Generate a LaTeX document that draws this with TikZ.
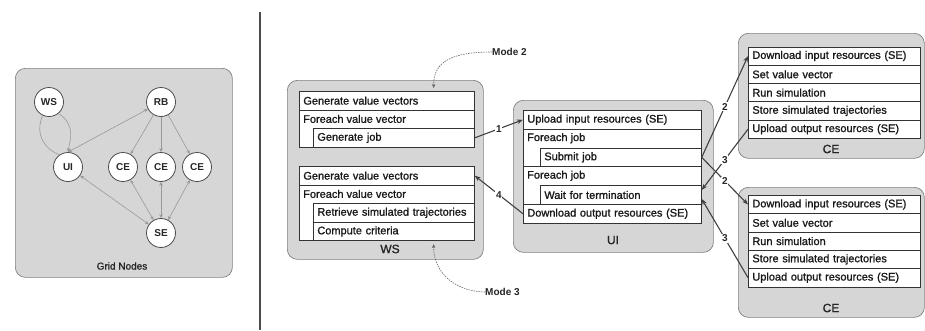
\documentclass[tikz,border=0pt]{standalone}
\usepackage{fontspec}
\setmainfont{Liberation Sans}
\newfontfamily\medfont[FakeBold=1.2]{Liberation Sans}
\usetikzlibrary{arrows.meta,calc}

\newcommand{\rowsize}{\medfont\fontsize{11}{13}\selectfont}

\begin{document}
\begin{tikzpicture}[x=1pt,y=-1pt,
  panel/.style={draw=black!50, fill=black!16, rounded corners=10pt, line width=0.7pt,
                anchor=north west, inner sep=0pt},
  rowbox/.style={draw=black!80, fill=white, line width=0.7pt, anchor=north west,
                 inner xsep=4pt, inner ysep=0pt, align=left, font=\rowsize, text=black!90},
  headtext/.style={anchor=west, inner sep=0pt, font=\rowsize, text=black!90},
  paneltitle/.style={font=\medfont\fontsize{12}{14}\selectfont, text=black!85},
  gnode/.style={circle, draw=black!70, fill=white, line width=0.8pt, minimum size=29pt,
                inner sep=0pt, font=\fontsize{10}{12}\selectfont\bfseries, text=black!85},
  gedge/.style={draw=black!40, line width=0.6pt},
  gtip/.style={-{Stealth[length=4pt,width=3.5pt]}},
  gtips/.style={{Stealth[length=4pt,width=3.5pt]}-{Stealth[length=4pt,width=3.5pt]}},
  flow/.style={draw=black!75, line width=1.1pt, -{Stealth[length=6pt,width=4.5pt]}},
  numlab/.style={fill=white, inner sep=0.8pt, font=\fontsize{10}{12}\selectfont\bfseries, text=black!85},
  modeline/.style={draw=black!60, line width=0.6pt, dashed, dash pattern=on 1.5pt off 1pt,
                   -{Stealth[length=4pt,width=3.5pt]}},
  modetext/.style={anchor=west, inner sep=0pt, font=\fontsize{10}{12}\selectfont\bfseries, text=black!85}
]
\useasboundingbox (0,0) rectangle (925,330);

% ---------------- Grid nodes overview ----------------
\node[panel, minimum width=217pt, minimum height=209pt] (gridpanel) at (15,68) {};
\node[paneltitle, font=\medfont\fontsize{10}{12}\selectfont] (gridtitle) at (122,266) {Grid Nodes};

\node[gnode] (g-ws)  at (49,102)  {WS};
\node[gnode] (g-rb)  at (161,102) {RB};
\node[gnode] (g-ui)  at (68,167)  {UI};
\node[gnode] (g-ce1) at (123,167) {CE};
\node[gnode] (g-ce2) at (161,167) {CE};
\node[gnode] (g-ce3) at (197,167) {CE};
\node[gnode] (g-se)  at (161,233) {SE};

\draw[gedge,gtip] (g-ws.-50) .. controls (76,125) and (70,140) .. (g-ui.north);
\draw[gedge] (g-ws.-115) .. controls (34,135) and (46,150) .. (g-ui.125);
\draw[gedge,gtips] (g-rb) -- (g-ui.north);
\draw[gedge,gtip] (g-rb) -- (g-ce1);
\draw[gedge,gtip] (g-rb) -- (g-ce2);
\draw[gedge,gtip] (g-rb) -- (g-ce3);
\draw[gedge,gtips] (g-se) -- (g-ui);
\draw[gedge,gtips] (g-se) -- (g-ce1);
\draw[gedge,gtips] (g-se) -- (g-ce2);
\draw[gedge,gtips] (g-se) -- (g-ce3);

% ---------------- separator ----------------
\draw[draw=black!70, line width=1.8pt] (260,12) -- (260,330);

% ---------------- WS ----------------
\node[panel, minimum width=196pt, minimum height=179pt] (ws) at (287,80) {};
\node[paneltitle] (ws-title) at (390,249) {WS};

\node[rowbox, text width=167pt, minimum height=18.6pt] (ws-gvv1) at (299,91) {Generate value vectors};
\node[rowbox, text width=167pt, minimum height=37.2pt] (ws-fe1) at (299,109.6) {};
\node[headtext] (ws-fe1-t) at ($(ws-fe1.north west)+(4,9.3)$) {Foreach value vector};
\node[rowbox, text width=153pt, minimum height=18.6pt] (ws-gj) at (313,128.2) {Generate job};

\node[rowbox, text width=167pt, minimum height=18.6pt] (ws-gvv2) at (299,166) {Generate value vectors};
\node[rowbox, text width=167pt, minimum height=55.8pt] (ws-fe2) at (299,184.6) {};
\node[headtext] (ws-fe2-t) at ($(ws-fe2.north west)+(4,9.3)$) {Foreach value vector};
\node[rowbox, text width=153pt, minimum height=18.6pt] (ws-rst) at (313,203.2) {Retrieve simulated trajectories};
\node[rowbox, text width=153pt, minimum height=18.6pt] (ws-cc) at (313,221.8) {Compute criteria};

% ---------------- UI ----------------
\node[panel, minimum width=200pt, minimum height=152pt] (ui) at (513,100) {};
\node[paneltitle] (ui-title) at (613,240) {UI};

\node[rowbox, text width=170pt, minimum height=18.8pt] (ui-up) at (523,110) {Upload input resources (SE)};
\node[rowbox, text width=170pt, minimum height=37.6pt] (ui-fe1) at (523,128.8) {};
\node[headtext] (ui-fe1-t) at ($(ui-fe1.north west)+(4,9.4)$) {Foreach job};
\node[rowbox, text width=153pt, minimum height=18.8pt] (ui-sj) at (540,147.6) {Submit job};
\node[rowbox, text width=170pt, minimum height=37.6pt] (ui-fe2) at (523,166.4) {};
\node[headtext] (ui-fe2-t) at ($(ui-fe2.north west)+(4,9.4)$) {Foreach job};
\node[rowbox, text width=153pt, minimum height=18.8pt] (ui-wt) at (540,185.2) {Wait for termination};
\node[rowbox, text width=170pt, minimum height=18.8pt] (ui-dl) at (523,204) {Download output resources (SE)};

% ---------------- CE (upper) ----------------
\node[panel, minimum width=186pt, minimum height=125pt] (ce1) at (738,33) {};
\node[paneltitle] (ce1-title) at (831,149) {CE};
\node[rowbox, text width=164pt, minimum height=18.3pt] (ce1-dl) at (748,46.5)  {Download input resources (SE)};
\node[rowbox, text width=164pt, minimum height=18.3pt] (ce1-vv) at (748,64.8)  {Set value vector};
\node[rowbox, text width=164pt, minimum height=18.3pt] (ce1-rs) at (748,83.1)  {Run simulation};
\node[rowbox, text width=164pt, minimum height=18.3pt] (ce1-st) at (748,101.4) {Store simulated trajectories};
\node[rowbox, text width=164pt, minimum height=18.3pt] (ce1-up) at (748,119.7) {Upload output resources (SE)};

% ---------------- CE (lower) ----------------
\node[panel, minimum width=186pt, minimum height=130pt] (ce2) at (738,187) {};
\node[paneltitle] (ce2-title) at (831,308) {CE};
\node[rowbox, text width=164pt, minimum height=18.3pt] (ce2-dl) at (748,195)   {Download input resources (SE)};
\node[rowbox, text width=164pt, minimum height=18.3pt] (ce2-vv) at (748,213.3) {Set value vector};
\node[rowbox, text width=164pt, minimum height=18.3pt] (ce2-rs) at (748,231.6) {Run simulation};
\node[rowbox, text width=164pt, minimum height=18.3pt] (ce2-st) at (748,249.9) {Store simulated trajectories};
\node[rowbox, text width=164pt, minimum height=18.3pt] (ce2-up) at (748,268.2) {Upload output resources (SE)};

% ---------------- message flows ----------------
\draw[flow] (ws-gj.east) -- node[numlab] (n1) {1} (ui-up.west);
\draw[flow] (ui-dl.west) -- node[numlab] (n4) {4} (ws-gvv2.east);
\draw[flow] (ui-sj.east) -- node[numlab] (n2a) {2} (ce1-dl.west);
\draw[flow] (ui-sj.east) -- node[numlab] (n2b) {2} (ce2-dl.west);
\draw[flow] (ce1-up.west) -- node[numlab] (n3a) {3} ($(ui-wt.east)+(0,-5)$);
\draw[flow] (ce2-up.west) -- node[numlab] (n3b) {3} ($(ui-wt.east)+(0,4)$);

% ---------------- modes ----------------
\node[modetext] (mode2) at (492,52) {Mode 2};
\node[modetext] (mode3) at (485,292) {Mode 3};
\draw[modeline] (mode2.west) .. controls (455,52) and (433,60) .. ($(ws-gvv1.north east)+(-41,-3)$);
\draw[modeline] (mode3.west) .. controls (450,291) and (433,268) .. ($(ws-cc.south east)+(-41,3)$);
\end{tikzpicture}
\end{document}
